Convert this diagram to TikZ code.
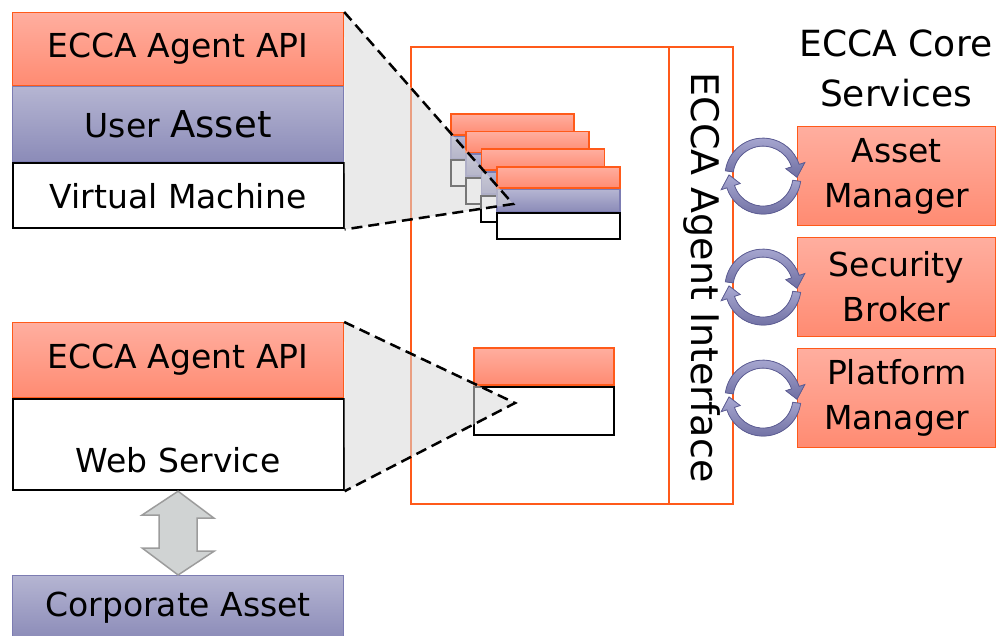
\documentclass[tikz,border=0pt]{standalone}
\usepackage{fontspec}
\setmainfont{DejaVu Sans}
\usetikzlibrary{calc}

\definecolor{redtop}{HTML}{FFAE9F}
\definecolor{redbot}{HTML}{FF8B72}
\definecolor{eccaorange}{HTML}{FF5A1A}
\definecolor{assettop}{HTML}{B5B5D2}
\definecolor{assetbot}{HTML}{8B8BB8}
\definecolor{assetline}{HTML}{7C7CB2}
\definecolor{cycletop}{HTML}{A9A9D2}
\definecolor{cyclebot}{HTML}{6F6FA2}
\definecolor{cycleline}{HTML}{5E5E96}
\definecolor{bothfill}{HTML}{D0D3D3}
\definecolor{bothline}{HTML}{9C9C9C}

\tikzset{
  boxtext/.style={font=\fontsize{33}{45}\selectfont},
  apibox/.style={boxtext, draw=eccaorange, line width=1.2pt, top color=redtop, bottom color=redbot, inner sep=0pt, minimum width=331pt},
  assetbox/.style={boxtext, draw=assetline, line width=1.2pt, top color=assettop, bottom color=assetbot, inner sep=0pt, minimum width=331pt},
  plainbox/.style={boxtext, draw=black, line width=2pt, fill=white, inner sep=0pt, minimum width=331pt},
  smallapi/.style={draw=eccaorange, line width=1.6pt, top color=redtop, bottom color=redbot, inner sep=0pt, minimum width=123pt, minimum height=21pt},
  smallasset/.style={draw=assetline, line width=1.6pt, top color=assettop, bottom color=assetbot, inner sep=0pt, minimum width=123pt, minimum height=22pt},
  smallvm/.style={draw=black, line width=2pt, fill=white, inner sep=0pt, minimum width=123pt, minimum height=26pt},
  corebox/.style={boxtext, align=center, draw=eccaorange, line width=1.2pt, top color=redtop, bottom color=redbot, inner sep=0pt, minimum width=198pt, minimum height=99pt},
  zoomshade/.style={fill=black!15, fill opacity=0.55},
  dashedge/.style={draw=black, line width=2.5pt, dash pattern=on 11pt off 6pt},
  cyclearrow/.style={draw=cycleline, line width=0.8pt, top color=cycletop, bottom color=cyclebot},
  bothways/.style={draw=bothline, line width=1.5pt, fill=bothfill}
}

\begin{document}
\begin{tikzpicture}[x=1pt, y=-1pt]
\useasboundingbox (0,0) rectangle (999,635);

% virtual machine stack
\node[apibox, minimum height=73pt, anchor=north west] (api1) at (12,12) {ECCA Agent API};
\node[assetbox, minimum height=75pt, anchor=north] (user) at (api1.south) {User \fontsize{37}{45}\selectfont Asset};
\node[plainbox, minimum height=65pt, anchor=north] (vm) at (user.south) {Virtual Machine};

% web service stack
\node[apibox, minimum height=75pt, anchor=north west] (api2) at (12,322) {ECCA Agent API};
\node[plainbox, minimum height=91pt, anchor=north] (web) at (api2.south) {};
\node[boxtext] (webtxt) at ([yshift=31pt]web.south) {Web Service};
\node[assetbox, minimum height=64pt, anchor=north west] (corp) at (12,575) {Corporate Asset};

\filldraw[bothways] (web.south) -- ++(36,27) -- ++(-17,0) -- ++(0,33) -- ++(17,0)
  -- (corp.north) -- ++(-36,-27) -- ++(17,0) -- ++(0,-33) -- ++(-17,0) -- cycle;

% agent interface
\node[draw=eccaorange, line width=2pt, minimum width=322pt, minimum height=457pt, anchor=north west] (agent) at (410,46) {};
\draw[eccaorange, line width=2pt] ([xshift=-65pt]agent.north east) -- ([xshift=-65pt]agent.south east);
\node[rotate=-90, font=\fontsize{38}{40}\selectfont] (agenttxt) at ([xshift=-32.5pt, yshift=-2pt]agent.east) {ECCA Agent Interface};

\foreach \i in {0,...,3} {
  \node[smallapi, anchor=north west] (stack\i-api) at (450+15.3*\i, 113+17.7*\i) {};
  \node[smallasset, anchor=north] (stack\i-asset) at (stack\i-api.south) {};
  \node[smallvm, anchor=north] (stack\i-vm) at (stack\i-asset.south) {};
}

\node[smallapi, minimum width=140pt, minimum height=37pt, anchor=north west] (wsapi) at (473,347) {};
\node[smallvm, minimum width=140pt, minimum height=48pt, anchor=north] (wsvm) at (wsapi.south) {};

% zoom triangles
\coordinate (vmtip) at (513,204);
\coordinate (wstip) at (515,403);
\fill[zoomshade] (api1.north east) -- (vmtip) -- (vm.south east) -- cycle;
\draw[dashedge] (api1.north east) -- (vmtip) -- (vm.south east);
\fill[zoomshade] (api2.north east) -- (wstip) -- (web.south east) -- cycle;
\draw[dashedge] (api2.north east) -- (wstip) -- (web.south east);

% core services
\node[font=\fontsize{36}{50}\selectfont, align=center] (coretitle) at (896,68) {ECCA Core\\Services};
\node[corebox, anchor=north west] (assetmgr) at (797,126) {Asset\\Manager};
\node[corebox, anchor=north west] (secbroker) at (797,237) {Security\\Broker};
\node[corebox, anchor=north west] (platmgr) at (797,348) {Platform\\Manager};

\foreach \b in {assetmgr, secbroker, platmgr} {
  \foreach \r in {0,180} {
    \begin{scope}[shift={($(\b.west)+(-34,0)$)}, rotate=\r]
      \filldraw[cyclearrow] (-172:38) arc[start angle=-172, end angle=-18, radius=38]
        -- (-18:44) -- (2:34) -- (-18:24) -- (-18:30)
        arc[start angle=-18, end angle=-172, radius=30] -- cycle;
    \end{scope}
  }
}
%\draw[step=50, gray, very thin] (0,0) grid (999,635);
\end{tikzpicture}
\end{document}
